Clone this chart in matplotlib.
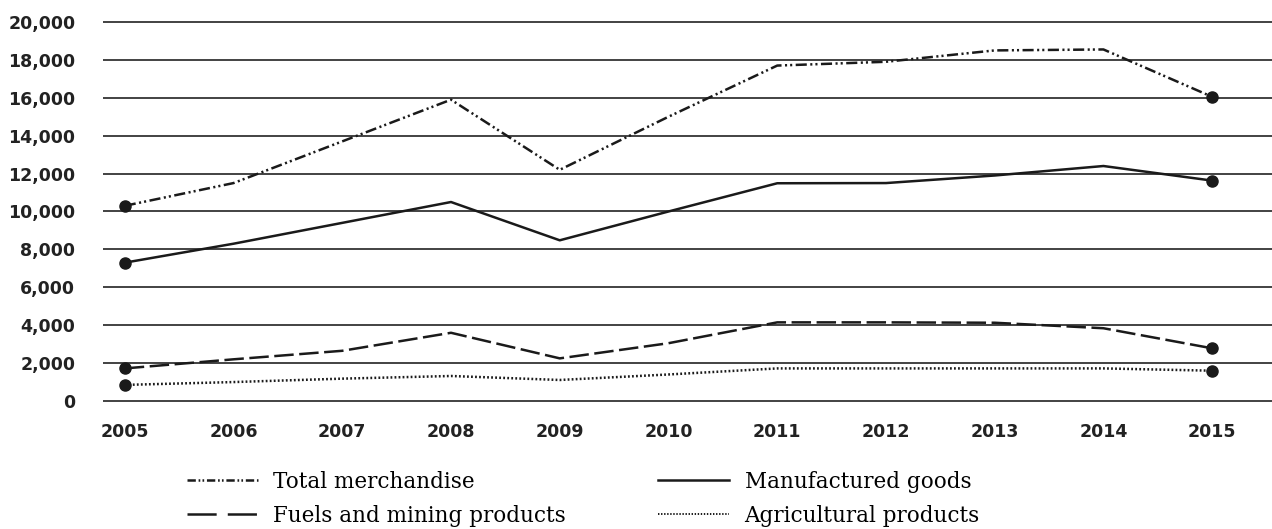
import matplotlib
matplotlib.use("Agg")
import matplotlib.pyplot as plt
from matplotlib.lines import Line2D

years = list(range(2005, 2016))

total_merch = [10300, 11500, 13700, 15900, 12200, 15000, 17700, 17900, 18500, 18550, 16050]
manufactured = [7300, 8300, 9400, 10500, 8480, 10000, 11490, 11500, 11900, 12400, 11630]
fuels = [1720, 2200, 2650, 3600, 2250, 3050, 4150, 4150, 4130, 3840, 2780]
agri = [850, 1000, 1180, 1320, 1110, 1400, 1720, 1720, 1720, 1720, 1600]

labels = ["Total merchandise", "Manufactured goods",
          "Fuels and mining products", "Agricultural products"]
y_ticks = list(range(0, 20001, 2000))

plt.rcParams['lines.scale_dashes'] = False

fig = plt.figure(figsize=(12.72, 5.29), dpi=100)
ax = fig.add_axes([0.081, 0.2312, 0.919, 0.738])

lw = 1.8
ms = 8
ends = [0, len(years) - 1]
ax.plot(years, total_merch, color='#1a1a1a', lw=lw,
        linestyle=(0, (8, 2.5, 1.5, 2.2, 1.5, 2.5)),
        marker='o', ms=ms, markevery=ends)
ax.plot(years, manufactured, color='#1a1a1a', lw=lw, linestyle='-',
        marker='o', ms=ms, markevery=ends)
ax.plot(years, fuels, color='#1a1a1a', lw=lw, linestyle=(0, (14, 4)),
        marker='o', ms=ms, markevery=ends)
ax.plot(years, agri, color='#1a1a1a', lw=lw, linestyle=(0, (1.3, 1.6)),
        marker='o', ms=ms, markevery=ends)

ax.set_xlim(2004.8, 2015.55)
ax.set_ylim(-300, 20300)
ax.set_yticks(y_ticks)
ax.set_yticklabels([f"{v:,}" for v in y_ticks])
ax.set_xticks(years)
ax.set_xticklabels([str(y) for y in years])
for sp in ax.spines.values():
    sp.set_visible(False)
ax.tick_params(length=0, labelsize=12.5, pad=20)
ax.tick_params(axis='x', pad=12)
for t in ax.get_xticklabels() + ax.get_yticklabels():
    t.set_fontweight('bold')
    t.set_color('#222222')
ax.grid(axis='y', color='#222222', lw=1.2)
ax.set_axisbelow(True)

# legend drawn without markers
styles = [(0, (6, 2, 1.2, 1.6, 1.2, 2)), '-', (0, (21, 8)), (0, (1.0, 1.2))]
handles = [Line2D([], [], color='#1a1a1a', lw=lw if i != 3 else 1.4, linestyle=s)
           for i, s in enumerate(styles)]
order = [0, 2, 1, 3]
fig.legend([handles[i] for i in order], [labels[i] for i in order],
           ncol=2, loc='upper left', bbox_to_anchor=(0.147, 0.11),
           frameon=False, prop={'family': 'DejaVu Serif', 'size': 15.5},
           handlelength=3.3, handletextpad=0.7, columnspacing=4.3,
           labelspacing=0.55, borderaxespad=0, borderpad=0)

fig.savefig("out.png", dpi=100, facecolor='white')
